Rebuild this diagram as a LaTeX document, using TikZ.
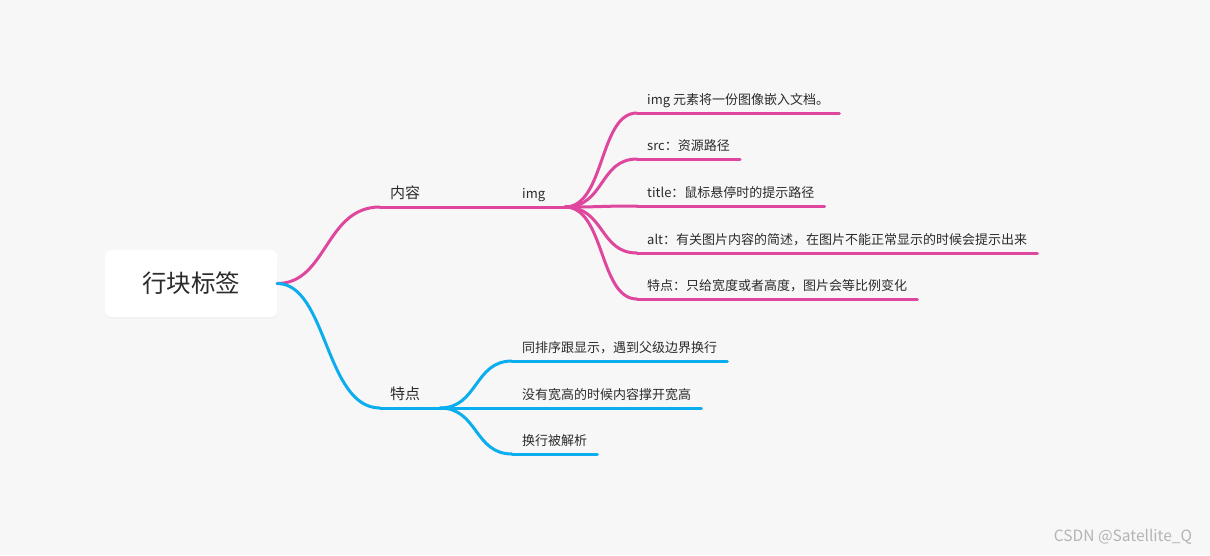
\documentclass[tikz,border=0pt]{standalone}
\usepackage{fontspec}
\setmainfont{Noto Sans CJK SC}
\usepackage{tikz}
\usetikzlibrary{shadows}

\definecolor{bg}{HTML}{F7F7F7}
\definecolor{pinkline}{HTML}{DE479D}
\definecolor{blueline}{HTML}{0AADEE}
\definecolor{txt}{HTML}{2B2B2B}
\definecolor{mark}{HTML}{B4B4B4}

\tikzset{
  leaf/.style={anchor=south west, inner xsep=10pt, inner ysep=0pt, text depth=8pt,
    font=\fontsize{13pt}{15pt}\selectfont, text=txt},
  topic/.style={leaf, inner xsep=10pt, font=\fontsize{15pt}{17pt}\selectfont},
  pinkbr/.style={pinkline, line width=3pt, line cap=round},
  bluebr/.style={blueline, line width=3pt, line cap=round}
}

\begin{document}
\begin{tikzpicture}[x=1pt, y=-1pt]
        \fill[bg] (0,0) rectangle (1210,555);
        \useasboundingbox (0,0) rectangle (1210,555);

        \node (root) [fill=white, rounded corners=6pt, minimum width=172pt, minimum height=67pt,
          drop shadow={shadow xshift=0pt, shadow yshift=-1.5pt, opacity=0.06},
          font=\fontsize{24.5pt}{28pt}\selectfont, text=txt] at (191,283.5) {行块标签};

        % upper branch
        \node (content) [topic] at (380,207) {内容};
        \node (img) [leaf] at (512,207) {img};
        \coordinate (fanA) at (565,207);
        \node (c1) [leaf] at (637,113) {img 元素将一份图像嵌入文档。};
        \node (c2) [leaf] at (637,159) {src：资源路径};
        \node (c3) [leaf] at (637,206) {title：鼠标悬停时的提示路径};
        \node (c4) [leaf] at (637,253) {alt：有关图片内容的简述，在图片不能正常显示的时候会提示出来};
        \node (c5) [leaf] at (637,299) {特点：只给宽度或者高度，图片会等比例变化};

        \draw[pinkbr] (root.east) .. controls +(50,0) and +(-55,0) .. (content.south west);
        \draw[pinkbr] (content.south west) -- (fanA);
        \foreach \n in {c1,c2,c3,c4,c5}{
          \draw[pinkbr] (fanA) .. controls +(40,0) and +(-38,0) .. (\n.south west);
          \draw[pinkbr] (\n.south west) -- (\n.south east);
        }

        % lower branch
        \node (feat) [topic] at (380,408) {特点};
        \coordinate (fanB) at (440,408);
        \node (f1) [leaf] at (512,361) {同排序跟显示，遇到父级边界换行};
        \node (f2) [leaf] at (512,408) {没有宽高的时候内容撑开宽高};
        \node (f3) [leaf] at (512,454) {换行被解析};

        \draw[bluebr] (root.east) .. controls +(50,0) and +(-55,0) .. (feat.south west);
        \draw[bluebr] (feat.south west) -- (fanB);
        \foreach \n in {f1,f2,f3}{
          \draw[bluebr] (fanB) .. controls +(38,0) and +(-38,0) .. (\n.south west);
          \draw[bluebr] (\n.south west) -- (\n.south east);
        }

        \node (wm) [text=mark, font=\fontsize{15.5pt}{17pt}\selectfont] at (1123,537) {CSDN @Satellite\_Q};
    \end{tikzpicture}
\end{document}
